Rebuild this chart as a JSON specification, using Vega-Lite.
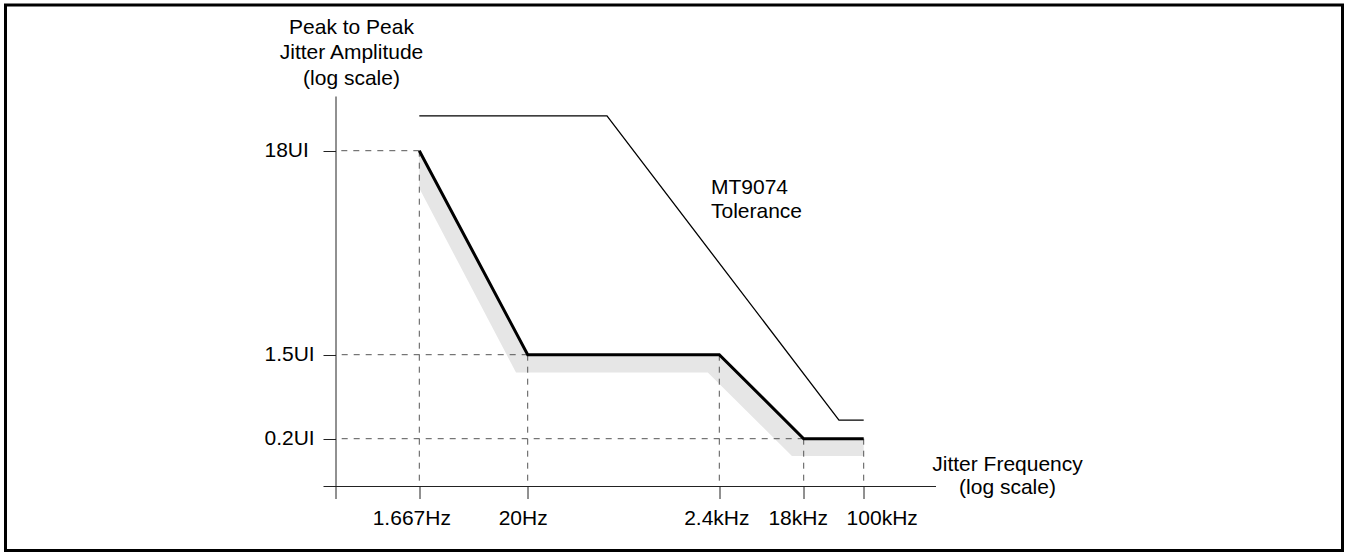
{
  "$schema": "https://vega.github.io/schema/vega-lite/v6.json",
  "width": 1337,
  "height": 545.5,
  "autosize": {"type": "none"},
  "padding": {"left": 5.5, "top": 5, "right": 7.5, "bottom": 1.5},
  "background": "white",
  "config": {
    "view": {"stroke": "black", "strokeWidth": 3},
    "font": "Liberation Sans",
    "axis": {
      "labelFont": "Liberation Sans",
      "labelFontSize": 21,
      "labelColor": "black",
      "titleFont": "Liberation Sans",
      "titleFontSize": 21,
      "titleFontWeight": "normal",
      "titleColor": "black",
      "domainColor": "#222222",
      "domainWidth": 1,
      "tickColor": "#222222",
      "tickWidth": 1,
      "grid": false,
      "labelFlush": false,
      "labelOverlap": false
    }
  },
  "datasets": {
    "mask": [
      {"freq": 1.667, "amp": 18},
      {"freq": 20, "amp": 1.5},
      {"freq": 2400, "amp": 1.5},
      {"freq": 18000, "amp": 0.2},
      {"freq": 100000, "amp": 0.2}
    ],
    "tolerance": [
      {"freq": 1.667, "amp": 24.9},
      {"freq": 145, "amp": 24.9},
      {"freq": 49300, "amp": 0.313},
      {"freq": 100000, "amp": 0.313}
    ],
    "shadow": [
      {"order": 1, "freq": 1.667, "amp": 18},
      {"order": 2, "freq": 20, "amp": 1.5},
      {"order": 3, "freq": 2400, "amp": 1.5},
      {"order": 4, "freq": 18000, "amp": 0.2},
      {"order": 5, "freq": 100000, "amp": 0.2},
      {"order": 6, "freq": 100000, "amp": 0.136},
      {"order": 7, "freq": 13600, "amp": 0.136},
      {"order": 8, "freq": 1800, "amp": 0.98},
      {"order": 9, "freq": 15.3, "amp": 0.98},
      {"order": 10, "freq": 1.667, "amp": 11.4}
    ],
    "hguides": [
      {"freq": 1.667, "amp": 18},
      {"freq": 20, "amp": 1.5},
      {"freq": 18000, "amp": 0.2}
    ],
    "notes": [
      {"freq": 1950, "amp": 11.4, "label": "MT9074\nTolerance"}
    ]
  },
  "layer": [
    {
      "data": {"name": "shadow"},
      "mark": {"type": "line", "fill": "#e6e6e6", "strokeOpacity": 0, "strokeWidth": 0},
      "encoding": {
        "x": {
          "field": "freq",
          "type": "quantitative",
          "scale": {
            "type": "log",
            "domain": [0.25, 1.667, 20, 2400, 18000, 100000, 1000000],
            "range": [330, 413.8, 522.2, 713.8, 798.2, 858.2, 930],
            "nice": false
          },
          "axis": {
            "values": [0.25, 1.667, 20, 2400, 18000, 100000],
            "labelExpr": "datum.value == 1.667 ? '1.667Hz' : datum.value == 20 ? '20Hz' : datum.value == 2400 ? '2.4kHz' : datum.value == 18000 ? '18kHz' : datum.value == 100000 ? '100kHz' : ''",
            "offset": -64.5,
            "tickSize": 12.5,
            "labelPadding": 26,
            "labelBaseline": "alphabetic",
            "labelAlign": "center",
            "labelOffset": {
              "condition": [
                {"test": "datum.value == 1.667", "value": -8},
                {"test": "datum.value == 20", "value": -5},
                {"test": "datum.value == 2400", "value": -3},
                {"test": "datum.value == 18000", "value": -6},
                {"test": "datum.value == 100000", "value": 18}
              ],
              "value": 0
            },
            "title": ["Jitter Frequency", "(log scale)"],
            "titleX": 1001.5,
            "titleY": -15.5,
            "titleAlign": "center",
            "titleBaseline": "alphabetic",
            "titleLineHeight": 23
          }
        },
        "y": {
          "field": "amp",
          "type": "quantitative",
          "scale": {
            "type": "log",
            "domain": [0.07, 0.2, 1.5, 18, 30],
            "range": [481, 433.7, 349.7, 145.7, 91],
            "nice": false
          },
          "axis": {
            "values": [0.07, 0.2, 1.5, 18],
            "labelExpr": "datum.value == 18 ? '18UI' : datum.value == 1.5 ? '1.5UI' : datum.value == 0.2 ? '0.2UI' : ''",
            "offset": -330,
            "tickSize": 12.5,
            "labelPadding": 59,
            "labelAlign": "left",
            "labelBaseline": "middle",
            "title": ["Peak to Peak", "Jitter Amplitude", "(log scale)"],
            "titleAngle": 0,
            "titleAlign": "center",
            "titleBaseline": "alphabetic",
            "titleX": 15.5,
            "titleY": 28,
            "titleLineHeight": 25.5
          }
        },
        "order": {"field": "order", "type": "quantitative"}
      }
    },
    {
      "data": {"name": "mask"},
      "mark": {"type": "rule", "color": "#555555", "strokeWidth": 1, "strokeDash": [6, 6]},
      "encoding": {
        "x": {"field": "freq", "type": "quantitative"},
        "y": {"field": "amp", "type": "quantitative"},
        "y2": {"datum": 0.07}
      }
    },
    {
      "data": {"name": "hguides"},
      "mark": {"type": "rule", "color": "#555555", "strokeWidth": 1, "strokeDash": [6, 6]},
      "encoding": {
        "y": {"field": "amp", "type": "quantitative"},
        "x": {"field": "freq", "type": "quantitative"},
        "x2": {"datum": 0.25}
      }
    },
    {
      "data": {"name": "tolerance"},
      "mark": {"type": "line", "color": "black", "strokeWidth": 1.3},
      "encoding": {
        "x": {"field": "freq", "type": "quantitative"},
        "y": {"field": "amp", "type": "quantitative"}
      }
    },
    {
      "data": {"name": "mask"},
      "mark": {"type": "line", "color": "black", "strokeWidth": 3, "strokeJoin": "miter"},
      "encoding": {
        "x": {"field": "freq", "type": "quantitative"},
        "y": {"field": "amp", "type": "quantitative"}
      }
    },
    {
      "data": {"name": "notes"},
      "mark": {"type": "text", "align": "left", "baseline": "middle", "lineBreak": "\n", "fontSize": 21, "lineHeight": 24, "font": "Liberation Sans", "color": "black"},
      "encoding": {
        "x": {"field": "freq", "type": "quantitative"},
        "y": {"field": "amp", "type": "quantitative"},
        "text": {"field": "label", "type": "nominal"}
      }
    }
  ]
}
